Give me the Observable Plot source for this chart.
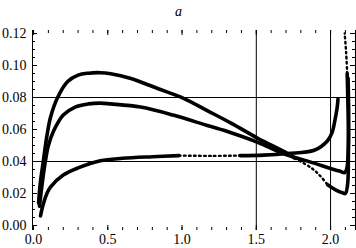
<!DOCTYPE html>
<html>
<head>
<meta charset="utf-8">
<script src="https://cdn.jsdelivr.net/npm/d3@7"></script>
<script src="https://cdn.jsdelivr.net/npm/@observablehq/plot@0.6"></script>
<style>
  html, body { margin: 0; padding: 0; background: #fff; }
  #chart svg { display: block; }
  #chart svg, #chart svg text { font-family: "Liberation Serif", "DejaVu Serif", "Noto Serif", serif !important; }
</style>
</head>
<body>
<div id="chart"></div>
<script>
// ---- data ----
const title = "a";
const xTickLabels = [0, 0.5, 1.0, 1.5, 2.0];
const yTickLabels = [0.00, 0.02, 0.04, 0.06, 0.08, 0.10, 0.12];
const refX = [1.5, 2.0];
const refY = [0.04, 0.08];

// upper curve (peak ~0.096)
const upperX = [0.034, 0.045, 0.067, 0.09, 0.114, 0.162, 0.23, 0.30, 0.37, 0.45, 0.52, 0.65, 0.835, 1.01, 1.17, 1.33, 1.51, 1.71, 1.76, 1.87, 1.93, 1.98, 2.04, 2.08, 2.10, 2.115, 2.12, 2.12, 2.116, 2.112, 2.105, 2.095];
const upperY = [0.014, 0.026, 0.041, 0.056, 0.0675, 0.080, 0.090, 0.094, 0.0952, 0.0955, 0.0948, 0.092, 0.0856, 0.0795, 0.0718, 0.0640, 0.0545, 0.045, 0.042, 0.036, 0.031, 0.0255, 0.022, 0.0205, 0.020, 0.026, 0.042, 0.062, 0.080, 0.095, 0.108, 0.120];

// middle curve (peak ~0.077)
const middleX = [0.04, 0.05, 0.065, 0.081, 0.10, 0.135, 0.20, 0.28, 0.37, 0.45, 0.52, 0.72, 0.94, 1.17, 1.33, 1.51, 1.68, 1.89, 2.00, 2.06, 2.095, 2.11, 2.12, 2.122, 2.118];
const middleY = [0.012, 0.020, 0.031, 0.041, 0.050, 0.059, 0.069, 0.074, 0.076, 0.0765, 0.076, 0.074, 0.069, 0.0625, 0.058, 0.052, 0.045, 0.039, 0.0356, 0.034, 0.033, 0.036, 0.050, 0.070, 0.092];

// lower curve (flat near 0.04)
const lowerX = [0.047, 0.056, 0.067, 0.09, 0.114, 0.20, 0.30, 0.45, 0.60, 0.80, 0.98, 1.20, 1.39, 1.55, 1.71, 1.89, 1.98, 2.01, 2.03, 2.045, 2.05];
const lowerY = [0.006, 0.010, 0.0138, 0.020, 0.024, 0.0315, 0.036, 0.0405, 0.042, 0.043, 0.0437, 0.0435, 0.0437, 0.044, 0.045, 0.047, 0.053, 0.058, 0.066, 0.074, 0.079];

// ---- layout ----
const W = 356, H = 248;
const mL = 32, mR = 1, mT = 30, mB = 18;
const innerW = W - mL - mR, innerH = H - mT - mB;
const xDomain = [-0.007, 2.168];
const yDomain = [-0.003125, 0.121875];
const serif = '"Liberation Serif", "DejaVu Serif", "Noto Serif", serif';

const rows = (xs, ys) => xs.map((x, i) => ({x, y: ys[i]}));
const upper = rows(upperX, upperY);
const middle = rows(middleX, middleY);
const lower = rows(lowerX, lowerY);

// sparse (dotted-looking) stretches of the point clouds
const upperSparseA = d => d.x >= 1.76 && d.x <= 1.98 && d.y < 0.05;
const upperSparseB = d => d.x > 2.05 && d.y >= 0.095;
const upperSparseInner = d => (d.x > 1.76 && d.x < 1.98 && d.y < 0.05) || (d.x > 2.05 && d.y > 0.095);
const lowerSparse = d => d.x >= 0.98 && d.x <= 1.39;
const lowerSparseInner = d => d.x > 0.98 && d.x < 1.39;

const solid = (data, inner) => data.map(d => ({x: d.x, y: inner(d) ? NaN : d.y}));

const xMinor = d3.range(0, 2.16, 0.1).map(v => +v.toFixed(2));
const yMinor = d3.range(0, 0.1201, 0.005).map(v => +v.toFixed(3));

const lineOpts = {x: "x", y: "y", stroke: "black", strokeWidth: 3.6, curve: "catmull-rom"};
const dotOpts = {x: "x", y: "y", stroke: "black", strokeWidth: 2.4, curve: "catmull-rom", strokeDasharray: "1.6,3.4"};

const chart = Plot.plot({
  width: W, height: H,
  marginLeft: mL, marginRight: mR, marginTop: mT, marginBottom: mB,
  style: {fontFamily: serif, fontSize: "14px", color: "black", background: "white"},
  x: {domain: xDomain},
  y: {domain: yDomain},
  marks: [
    // frame sides
    Plot.ruleX([xDomain[0], xDomain[1]], {stroke: "black", strokeWidth: 1}),
    // reference lines
    Plot.ruleX(refX, {stroke: "black", strokeWidth: 1}),
    Plot.ruleY(refY, {stroke: "black", strokeWidth: 1}),
    // inward ticks
    Plot.ruleY(yTickLabels, {stroke: "black", insetRight: innerW - 5}),
    Plot.ruleY(yMinor, {stroke: "black", insetRight: innerW - 3}),
    Plot.ruleY(yTickLabels, {stroke: "black", insetLeft: innerW - 5}),
    Plot.ruleY(yMinor, {stroke: "black", insetLeft: innerW - 3}),
    Plot.ruleX(xTickLabels, {stroke: "black", insetBottom: innerH - 5}),
    Plot.ruleX(xMinor, {stroke: "black", insetBottom: innerH - 3}),
    Plot.ruleX(xTickLabels, {stroke: "black", insetTop: innerH - 5}),
    Plot.ruleX(xMinor, {stroke: "black", insetTop: innerH - 3}),
    // tick labels
    Plot.axisY({ticks: yTickLabels, tickSize: 0, tickPadding: 6, tickFormat: d3.format(".2f"), label: null, fontFamily: serif}),
    Plot.axisX({ticks: xTickLabels, tickSize: 0, tickPadding: 4, tickFormat: d3.format(".1f"), label: null, fontFamily: serif}),
    // curves
    Plot.line(solid(upper, upperSparseInner), lineOpts),
    Plot.line(upper.filter(upperSparseA), dotOpts),
    Plot.line(upper.filter(upperSparseB), dotOpts),
    Plot.line(middle, lineOpts),
    Plot.line(solid(lower, lowerSparseInner), lineOpts),
    Plot.line(lower.filter(lowerSparse), dotOpts),
    // title
    Plot.text([title], {frameAnchor: "top", dx: -15.5, dy: -24, fontStyle: "italic", fontSize: 14, fill: "black", fontFamily: serif})
  ]
});
document.getElementById("chart").appendChild(chart);
</script>
</body>
</html>
